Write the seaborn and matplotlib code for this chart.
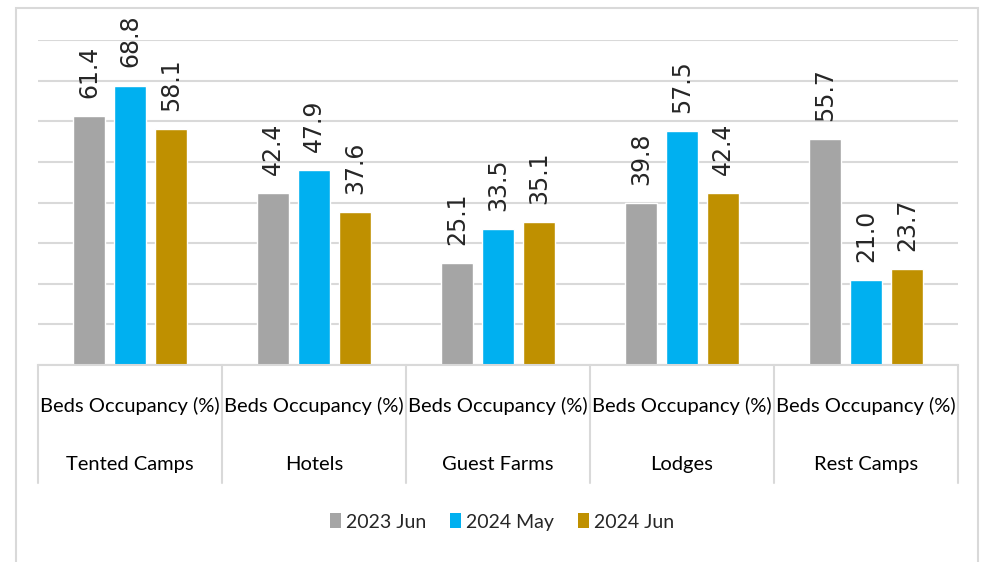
import matplotlib
matplotlib.use("Agg")
import matplotlib.pyplot as plt
from matplotlib.patches import Patch, Rectangle
import matplotlib.transforms as mtransforms
import seaborn as sns
import pandas as pd

# chart data
categories = ["Tented Camps", "Hotels", "Guest Farms", "Lodges", "Rest Camps"]
measure = "Beds Occupancy (%)"
periods = ["2023 Jun", "2024 May", "2024 Jun"]
jun_2023 = [61.4, 42.4, 25.1, 39.8, 55.7]
may_2024 = [68.8, 47.9, 33.5, 57.5, 21.0]
jun_2024 = [58.1, 37.6, 35.1, 42.4, 23.7]
colors = ["#A5A5A5", "#00B0F0", "#BF9000"]

df = pd.DataFrame({
    "category": categories * 3,
    "period": [p for p in periods for _ in categories],
    "value": jun_2023 + may_2024 + jun_2024,
})

sns.set_theme(style="white")
plt.rcParams["font.family"] = ["Lato", "DejaVu Sans"]
grid_color = "#D9D9D9"

fig = plt.figure(figsize=(9.86, 5.62), dpi=100)
ax = fig.add_axes([38 / 986, 1 - 365 / 562, 920 / 986, 325 / 562])

sns.barplot(data=df, x="category", y="value", hue="period", order=categories,
            hue_order=periods, palette=colors, width=0.669, gap=0.22,
            saturation=1, legend=False, ax=ax)

# value labels, rotated, above each bar
for cont in ax.containers:
    for bar in cont:
        h = bar.get_height()
        ax.annotate(f"{h:.1f}", (bar.get_x() + bar.get_width() / 2, h),
                    xytext=(0, 13), textcoords="offset points", rotation=90,
                    ha="center", va="bottom", fontsize=17, family="DejaVu Sans",
                    color="#262626", annotation_clip=False)

ax.set_xlim(-0.5, len(categories) - 0.5)
ax.set_ylim(0, 80)
ax.set_yticks(range(0, 81, 10))
ax.yaxis.grid(True, color=grid_color, linewidth=1.5)
ax.set_axisbelow(True)
ax.tick_params(left=False, labelleft=False, bottom=False, labelbottom=False)
ax.set_xlabel("")
ax.set_ylabel("")
for s in ["top", "right", "left"]:
    ax.spines[s].set_visible(False)
ax.spines["bottom"].set_color(grid_color)
ax.spines["bottom"].set_linewidth(1.5)

# two-level category axis
trans = mtransforms.blended_transform_factory(ax.transData, ax.transAxes)
for i, cat in enumerate(categories):
    ax.text(i, -0.126, measure, transform=trans, ha="center", va="center",
            fontsize=14.5, color="black")
    ax.text(i, -0.305, cat, transform=trans, ha="center", va="center",
            fontsize=14.5, color="black")
for b in range(len(categories) + 1):
    ax.plot([b - 0.5, b - 0.5], [0, -0.363], transform=trans, color=grid_color,
            linewidth=1.5, clip_on=False)

handles = [Patch(facecolor=c, edgecolor="none", label=p) for c, p in zip(colors, periods)]
fig.legend(handles=handles, loc="center", bbox_to_anchor=(502 / 986, 1 - 522 / 562),
           ncol=3, frameon=False, handlelength=0.57, handleheight=0.8,
           handletextpad=0.26, columnspacing=1.24, fontsize=14)

# chart border
fig.patches.append(Rectangle((16 / 986, -0.05), 962 / 986, 1.05 - 8 / 562,
                             transform=fig.transFigure, fill=False,
                             edgecolor=grid_color, linewidth=1.5))

fig.savefig("out.png", dpi=100)
